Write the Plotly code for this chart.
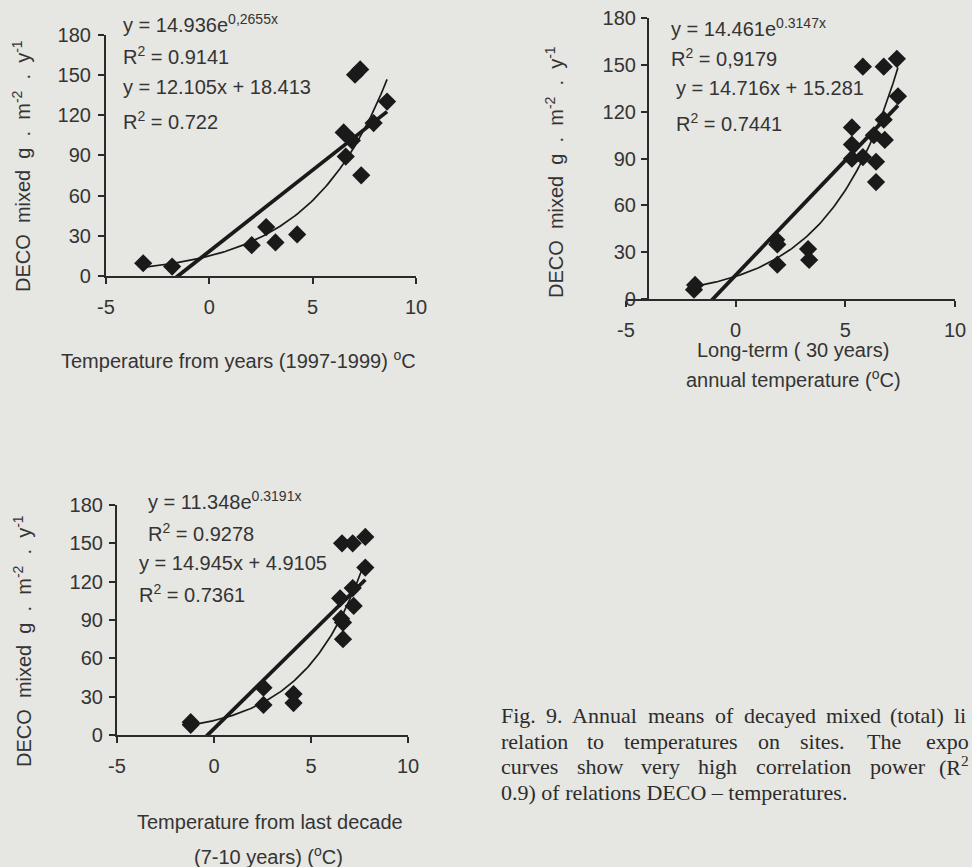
import numpy as np
import plotly.graph_objects as go

# ---- data: annual DECO (decayed mixed litter, g m-2 y-1) vs site temperature ----
temp_1997_1999 = [-3.2, -1.8, 2.05, 2.75, 3.2, 4.25, 6.5, 6.6, 6.9, 7.05, 7.3, 7.35, 7.95, 8.6]
deco_1997_1999 = [9.5, 7, 23, 36.5, 25, 31, 107, 89, 101, 150, 154, 75, 114, 130]

temp_30_years = [-1.9, -1.85, 1.85, 1.9, 1.9, 3.3, 3.35, 5.3, 5.3, 5.3, 5.8, 5.8,
                 6.3, 6.4, 6.4, 6.75, 6.8, 6.75, 7.35, 7.4]
deco_30_years = [6, 9, 38, 35, 22, 32, 25, 110, 99, 90, 91, 149,
                 105, 88, 75, 149, 102, 115, 154, 130]

temp_last_decade = [-1.2, -1.2, 2.55, 2.55, 4.1, 4.1, 6.5, 6.55, 6.65, 6.65, 6.6,
                    7.15, 7.15, 7.2, 7.8, 7.8]
deco_last_decade = [10, 8, 37, 23.5, 32, 25, 107, 91, 88, 75, 150,
                    150, 115, 101, 155, 131]

# trend-line coefficients (y = a*exp(b*x) and y = m*x + c) and their R2 labels
exp_a = [14.936, 14.461, 11.348]
exp_b = [0.2655, 0.3147, 0.3191]
exp_b_label = ["0,2655", "0.3147", "0.3191"]
exp_r2 = ["0.9141", "0,9179", "0.9278"]
lin_m = [12.105, 14.716, 14.945]
lin_c = [18.413, 15.281, 4.9105]
lin_c_label = ["18.413", "15.281", "4.9105"]
lin_r2 = ["0.722", "0.7441", "0.7361"]

x_ticks = [-5, 0, 5, 10]
x_tick_text = ["-5", "0", "5", "10"]
y_ticks = [0, 30, 60, 90, 120, 150, 180]

W, H = 972, 867
BG = "rgb(230,230,226)"
INK = "#1a1a1a"
TXT = "#343434"
SANS = "Liberation Sans, Arial, sans-serif"
SERIF = "Liberation Serif, Times New Roman, serif"


def px(x):
    return x / W


def py(y):
    return 1 - y / H


panels = [
    dict(x=temp_1997_1999, y=deco_1997_1999,
         xdom=(106, 416), ydom=(276, 34.5), yaxis_at=None, ystand=3),
    dict(x=temp_30_years, y=deco_30_years,
         xdom=(626, 955), ydom=(299, 18.3), yaxis_at=648, ystand=1),
    dict(x=temp_last_decade, y=deco_last_decade,
         xdom=(117, 408), ydom=(735, 505), yaxis_at=None, ystand=2),
]

fig = go.Figure()
layout = dict(
    width=W, height=H, margin=dict(l=0, r=0, t=0, b=0, autoexpand=False),
    paper_bgcolor=BG, plot_bgcolor="rgba(0,0,0,0)", showlegend=False,
)

for i, p in enumerate(panels):
    n = "" if i == 0 else str(i + 1)
    xa, ya = "x" + n, "y" + n
    xs = np.array(p["x"], dtype=float)
    x0, x1 = xs.min(), xs.max()

    # exponential trend (thin)
    xe = np.linspace(x0, x1, 120)
    fig.add_trace(go.Scatter(x=xe, y=exp_a[i] * np.exp(exp_b[i] * xe), mode="lines",
                             line=dict(color=INK, width=1.7), xaxis=xa, yaxis=ya,
                             hoverinfo="skip"))
    # linear trend (thick), clipped at the x axis by the plot area
    xl = np.array([x0, x1])
    fig.add_trace(go.Scatter(x=xl, y=lin_m[i] * xl + lin_c[i], mode="lines",
                             line=dict(color=INK, width=3.8), xaxis=xa, yaxis=ya,
                             hoverinfo="skip"))
    # observations
    fig.add_trace(go.Scatter(x=p["x"], y=p["y"], mode="markers", cliponaxis=False,
                             marker=dict(symbol="diamond", size=14, color=INK,
                                         line=dict(width=0)),
                             xaxis=xa, yaxis=ya))

    axis_common = dict(showline=True, linecolor="#2a2a2a", linewidth=2.2,
                       ticks="outside", ticklen=6, tickwidth=2, tickcolor="#2a2a2a",
                       showgrid=False, zeroline=False, automargin=False,
                       tickfont=dict(family=SANS, size=20, color=TXT))
    layout["xaxis" + n] = dict(axis_common, range=[-5, 10], tickvals=x_ticks,
                               ticktext=x_tick_text,
                               domain=[px(p["xdom"][0]), px(p["xdom"][1])],
                               anchor=ya, ticklabelstandoff=6)
    ydict = dict(axis_common, range=[0, 180], tickvals=y_ticks,
                 domain=[py(p["ydom"][0]), py(p["ydom"][1])],
                 ticklabelstandoff=p["ystand"])
    if p["yaxis_at"] is not None:
        ydict.update(anchor="free", position=px(p["yaxis_at"]))
    else:
        ydict.update(anchor=xa)
    layout["yaxis" + n] = ydict

annotations = []


def label(text, x, y, size=20, family=SANS, xanchor="left", angle=0, color=TXT):
    annotations.append(dict(text=text, x=px(x), y=py(y), xref="paper", yref="paper",
                            xanchor=xanchor, yanchor="middle", showarrow=False,
                            textangle=angle, borderpad=0,
                            font=dict(family=family, size=size, color=color)))


# fit equations
eq_pos = [
    [(122, 24), (122, 55), (122, 87), (122, 120)],
    [(670, 27), (670, 58), (675, 88), (675, 123)],
    [(147, 500), (147, 532), (138, 563), (138, 593)],
]
for i, pos in enumerate(eq_pos):
    label(f"y = {exp_a[i]:.3f}e<sup>{exp_b_label[i]}x</sup>", *pos[0])
    label(f"R<sup>2</sup> = {exp_r2[i]}", *pos[1])
    label(f"y = {lin_m[i]:.3f}x + {lin_c_label[i]}", *pos[2])
    label(f"R<sup>2</sup> = {lin_r2[i]}", *pos[3])

# y axis titles
ytitle = "DECO&nbsp; mixed&nbsp; g&nbsp; .&nbsp; m<sup>-2</sup>&nbsp; .&nbsp; y<sup>-1</sup>"
label(ytitle, 22, 166, size=20, xanchor="center", angle=-90)
label(ytitle, 555, 172, size=20, xanchor="center", angle=-90)
label(ytitle, 22, 641, size=20, xanchor="center", angle=-90)

# x axis titles
label("Temperature from years (1997-1999) <sup>o</sup>C", 60, 360)
label("Long-term ( 30 years)", 793, 350, xanchor="center")
label("annual temperature (<sup>o</sup>C)", 793, 379, xanchor="center")
label("Temperature from last decade", 270, 822, xanchor="center")
label("(7-10 years) (<sup>o</sup>C)", 268, 855, xanchor="center")

# figure caption (justified lines set word by word)
caption_lines = [
    (715, [("Fig.", 500), ("9.", 545), ("Annual", 571), ("means", 647), ("of", 714),
           ("decayed", 743), ("mixed", 825), ("(total)", 889), ("li", 953)]),
    (741, [("relation", 500), ("to", 586), ("temperatures", 623), ("on", 757),
           ("sites.", 799), ("The", 866), ("expo", 925)]),
    (766, [("curves", 500), ("show", 576), ("very", 640), ("high", 697),
           ("correlation", 755), ("power", 869), ("(R<sup>2</sup>", 938)]),
    (792, [("0.9) of relations DECO – temperatures.", 500)]),
]
for yline, words in caption_lines:
    for w, xw in words:
        label(w, xw, yline, size=22, family=SERIF, color="#2c2c2c")

layout["annotations"] = annotations
fig.update_layout(**layout)
fig.write_html("out.html")
